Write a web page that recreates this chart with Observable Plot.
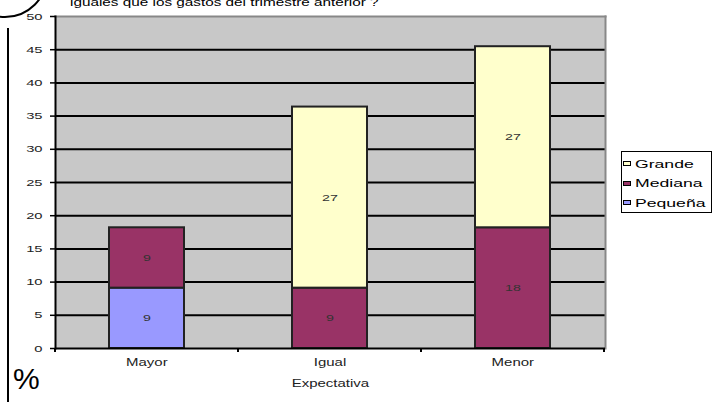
<!DOCTYPE html>
<html>
<head>
<meta charset="utf-8">
<script src="https://cdn.jsdelivr.net/npm/d3@7"></script>
<script src="https://cdn.jsdelivr.net/npm/@observablehq/plot@0.6"></script>
<style>
  html, body { margin: 0; padding: 0; background: #fff; }
  #wrap { position: relative; width: 717px; height: 402px; overflow: hidden; font-family: "Liberation Sans", Arial, sans-serif; }
  #wrap svg.plot { position: absolute; left: 0; top: 0; }
  #title { position: absolute; left: 70px; top: -4px; font-size: 11.5px; color: #000; white-space: nowrap; transform: scaleX(1.33); transform-origin: 0 0; }
  #pct { position: absolute; left: 13px; top: 364px; font-size: 30px; color: #000; line-height: 1; }
  #legend { position: absolute; left: 621px; top: 151px; width: 89px; height: 58px; border: 1.5px solid #000; background: #fff; padding: 2px 0 0 0; }
  #legend .row { display: flex; align-items: center; height: 19.5px; font-size: 11px; color: #000; white-space: nowrap; }
  #legend .sw { flex: none; width: 6px; height: 3px; border: 1.5px solid #000; margin: 0 4px 0 1px; }
  #legend .lab { display: inline-block; transform: scaleX(1.6); transform-origin: 0 50%; }
  #deco { position: absolute; left: 0; top: 0; }
</style>
</head>
<body>
<div id="wrap">
  <svg id="deco" width="717" height="402"></svg>
  <div id="title">iguales que los gastos del trimestre anterior ?</div>
  <div id="pct">%</div>
  <div id="legend"></div>
</div>
<script>
// ---- data ----
const categorias = ["Mayor", "Igual", "Menor"];
const tipos = ["Pequeña", "Mediana", "Grande"];          // stack order, bottom to top
const colores = ["#9999ff", "#993366", "#ffffcc"];
const pequena = [9.09, 0, 0];
const mediana = [9.09, 9.09, 18.18];
const grande  = [0, 27.27, 27.27];
const yTicks = [0, 5, 10, 15, 20, 25, 30, 35, 40, 45, 50];
const gridVals = [5, 10, 15, 20, 25, 30, 35, 40, 45];
const legendOrder = ["Grande", "Mediana", "Pequeña"];

const series = { "Pequeña": pequena, "Mediana": mediana, "Grande": grande };
const data = [];
for (const t of tipos) {
  categorias.forEach((c, i) => {
    if (series[t][i] > 0) data.push({ cat: c, tipo: t, value: series[t][i] });
  });
}

const chart = Plot.plot({
  width: 717,
  height: 402,
  marginLeft: 55,
  marginRight: 112,
  marginTop: 16,
  marginBottom: 54,
  style: { fontFamily: "Liberation Sans, Arial, sans-serif", background: "transparent", overflow: "visible" },
  x: { domain: categorias, paddingInner: 0.59, paddingOuter: 0.295 },
  y: { domain: [0, 50] },
  color: { domain: tipos, range: colores },
  marks: [
    Plot.frame({ fill: "#c8c8c8" }),
    Plot.ruleY(gridVals, { stroke: "#000", strokeWidth: 2 }),
    Plot.frame({ anchor: "top", stroke: "#888", strokeWidth: 2 }),
    Plot.frame({ anchor: "right", stroke: "#888", strokeWidth: 2 }),
    Plot.barY(data, Plot.stackY({ x: "cat", y: "value", z: "tipo", fill: "tipo", order: tipos, stroke: "#222", strokeWidth: 2 })),
    Plot.text(data, Plot.stackY({ x: "cat", y: "value", z: "tipo", order: tipos, text: d => d3.format(".0f")(d.value), fontSize: 9.5, fill: "#333" })),
    Plot.frame({ anchor: "left", stroke: "#000", strokeWidth: 2 }),
    Plot.ruleY([0], { stroke: "#000", strokeWidth: 2 }),
    Plot.axisY(yTicks, { tickSize: 5, tickPadding: 8, fontSize: 9.5, stroke: "#000", strokeWidth: 1.5, fill: "#222", label: null }),
    Plot.axisX({ tickSize: 0, tickPadding: 10, fontSize: 10, fill: "#222", label: "Expectativa", labelAnchor: "center", labelOffset: 38, labelArrow: "none" })
  ]
});
chart.classList.add("plot");
document.getElementById("wrap").appendChild(chart);

// the reference uses horizontally stretched lettering
function stretch(selection, s) {
  selection.each(function () {
    const bb = this.getBBox();
    const anchor = getComputedStyle(this).textAnchor;
    const ax = anchor === "end" ? bb.x + bb.width : anchor === "middle" ? bb.x + bb.width / 2 : bb.x;
    const tr = this.getAttribute("transform") || "";
    this.setAttribute("transform", `${tr} translate(${ax},0) scale(${s},1) translate(${-ax},0)`);
  });
}
const svg = d3.select(chart);
stretch(svg.selectAll('g[aria-label="y-axis tick label"] text'), 1.55);
stretch(svg.selectAll('g[aria-label="x-axis tick label"] text'), 1.5);
stretch(svg.selectAll('g[aria-label="x-axis label"] text'), 1.5);
stretch(svg.selectAll('g[aria-label="text"] text'), 1.5);

// boundary ticks on the x axis, derived from the band scale
const xs = chart.scale("x");
const ys = chart.scale("y");
const y0 = ys.apply(0);
const bounds = [];
categorias.forEach((c, i) => {
  const left = xs.apply(c) - (xs.step - xs.bandwidth) / 2;
  bounds.push(left);
  if (i === categorias.length - 1) bounds.push(left + xs.step);
});
svg.append("g").selectAll("line").data(bounds).join("line")
  .attr("x1", d => d).attr("x2", d => d)
  .attr("y1", y0).attr("y2", y0 + 4)
  .attr("stroke", "#000").attr("stroke-width", 2);

// decorations: arc and left vertical rule
const deco = d3.select("#deco");
deco.append("circle").attr("cx", 5).attr("cy", -25).attr("r", 42)
  .attr("fill", "none").attr("stroke", "#000").attr("stroke-width", 2);
deco.append("line").attr("x1", 8).attr("x2", 8).attr("y1", 28).attr("y2", 402)
  .attr("stroke", "#000").attr("stroke-width", 2);

// legend
const leg = d3.select("#legend");
legendOrder.forEach(t => {
  const row = leg.append("div").attr("class", "row");
  row.append("div").attr("class", "sw").style("background", colores[tipos.indexOf(t)]);
  row.append("span").attr("class", "lab").text(t);
});
</script>
</body>
</html>
